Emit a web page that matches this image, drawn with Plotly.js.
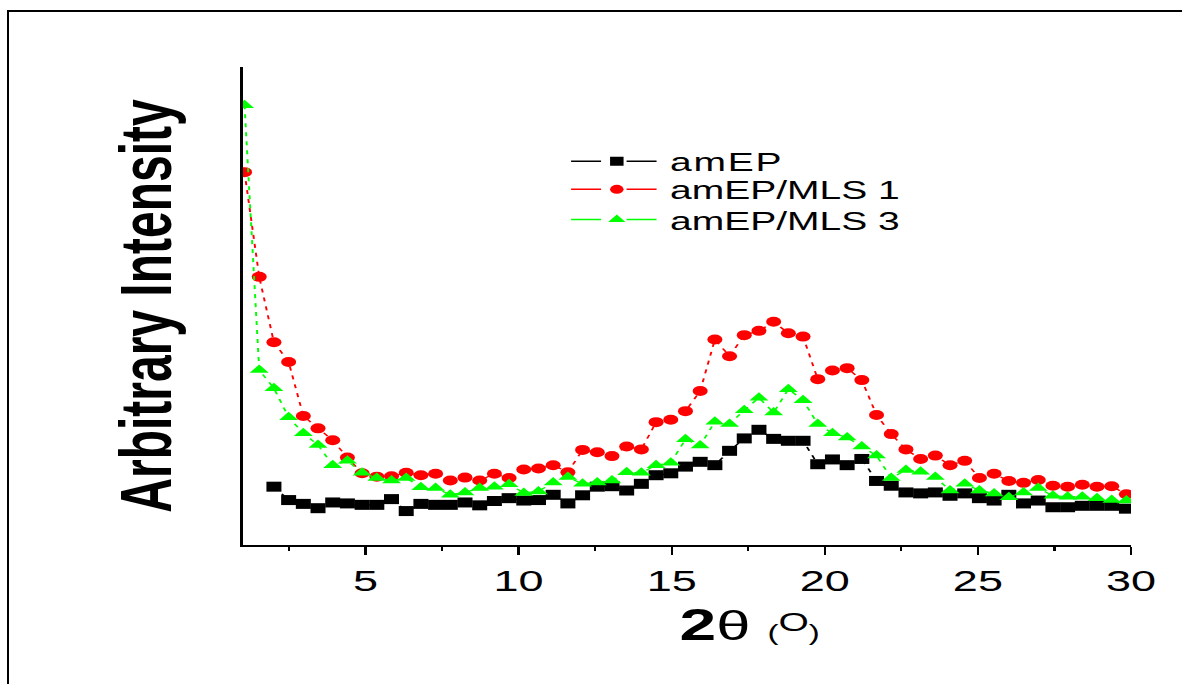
<!DOCTYPE html>
<html>
<head>
<meta charset="utf-8">
<script src="https://cdn.plot.ly/plotly-3.0.1.min.js"></script>
<style>
  html, body { margin: 0; padding: 0; background: #fff; overflow: hidden; }
  #frame { position: absolute; left: 7px; top: 10px; width: 1175px; height: 690px;
           border-left: 2px solid #000; border-top: 2px solid #000; box-sizing: border-box; }
  #chart { position: absolute; left: 0; top: 0; width: 794px; height: 684px;
           transform: scaleX(1.5); transform-origin: 0 0; }
  #chart .legendtext { letter-spacing: 1.2px; }
</style>
</head>
<body>
<div id="frame"></div>
<div id="chart"></div>
<script>
// 2θ positions (degrees) of the plotted symbols
const twoTheta = [1.05,1.53,2.01,2.49,2.97,3.45,3.93,4.41,4.89,5.37,
  5.85,6.33,6.81,7.29,7.77,8.25,8.73,9.21,9.69,10.17,
  10.65,11.13,11.61,12.09,12.57,13.05,13.53,14.01,14.49,14.97,
  15.45,15.93,16.41,16.89,17.37,17.85,18.33,18.81,19.29,19.77,
  20.25,20.73,21.21,21.69,22.17,22.65,23.13,23.61,24.09,24.57,
  25.05,25.53,26.01,26.49,26.97,27.45,27.93,28.41,28.89,29.37,
  29.85];

// Arbitrary intensity of each sample
const amEP = [null,null,122,94,86,77,89,87,84,84,
  96,71,86,84,84,89,83,92,98,93,
  94,105,87,104,122,123,114,128,146,150,
  164,174,167,197,223,241,222,218,218,169,
  179,167,180,134,124,110,108,110,103,108,
  98,93,105,87,93,79,79,82,82,82,
  76];
const amEP_MLS1 = [780,561,424,383,270,244,219,183,150,143,
  144,151,146,149,135,141,135,149,140,158,
  160,167,152,199,194,186,206,200,257,262,
  280,322,430,395,439,448,467,443,436,347,
  365,370,345,272,232,200,180,187,167,176,
  140,149,134,130,136,124,122,126,122,123,
  106];
const amEP_MLS3 = [920,366,328,267,234,209,167,176,151,140,
  135,140,121,119,105,110,119,122,127,109,
  112,131,142,128,131,135,152,151,167,172,
  221,208,258,253,282,308,277,326,303,253,
  234,225,206,187,140,157,153,142,114,128,
  114,108,100,110,119,103,101,101,98,94,
  93];

const seriesNames = ['amEP', 'amEP/MLS 1', 'amEP/MLS 3'];
const seriesValues = [amEP, amEP_MLS1, amEP_MLS3];
const seriesColors = ['#000000', '#ff0000', '#00ff00'];
const seriesSymbols = ['square', 'circle', 'triangle-up'];
const seriesSizes = [10, 10, 11];
const xTickVals = [5, 10, 15, 20, 25, 30];
const xMinorVals = [2.5, 7.5, 12.5, 17.5, 22.5, 27.5];

const FONT = '"Liberation Sans", Arial, sans-serif';
const legendIds = ['legend', 'legend2', 'legend3'];
const legendTops = [0.852, 0.793, 0.730];

const traces = [];
// data traces
seriesValues.forEach((vals, i) => {
  traces.push({
    x: twoTheta, y: vals, name: seriesNames[i], type: 'scatter', mode: 'lines+markers',
    showlegend: false, legendgroup: 'g' + i,
    line: { color: seriesColors[i], width: 1.3, dash: '4px,5px' },
    marker: { symbol: seriesSymbols[i], size: seriesSizes[i], color: seriesColors[i] }
  });
});
// legend entries (one per legend box so rows can be placed exactly)
seriesNames.forEach((nm, i) => {
  traces.push({
    x: [null], y: [null], name: nm, type: 'scatter', mode: 'lines+markers',
    legend: legendIds[i], legendgroup: 'g' + i, showlegend: true,
    line: { color: seriesColors[i], width: 1.5, dash: '20px,17px' },
    marker: { symbol: seriesSymbols[i], size: seriesSizes[i] - 1, color: seriesColors[i] }
  });
});

function legendBox(top) {
  return {
    x: 0.361, y: top, xanchor: 'left', yanchor: 'top',
    bgcolor: 'rgba(0,0,0,0)', borderwidth: 0,
    font: { family: FONT, size: 26, color: '#000' },
    itemwidth: 61
  };
}

const layout = {
  width: 794, height: 684,
  margin: { l: 162, r: 40, t: 67, b: 139 },
  paper_bgcolor: 'rgba(0,0,0,0)',
  plot_bgcolor: 'rgba(0,0,0,0)',
  font: { family: FONT, color: '#000' },
  showlegend: true,
  legend: legendBox(legendTops[0]),
  legend2: legendBox(legendTops[1]),
  legend3: legendBox(legendTops[2]),
  xaxis: {
    range: [1, 30], showgrid: false, zeroline: false,
    showline: true, linecolor: '#000', linewidth: 2,
    ticks: 'outside', ticklen: 8, tickwidth: 1.5, tickcolor: '#000',
    tickvals: xTickVals, ticktext: xTickVals.map(String),
    tickfont: { family: FONT, size: 30, color: '#000' },
    minor: { tickvals: xMinorVals, ticks: 'outside', ticklen: 4, tickwidth: 1.5, tickcolor: '#000' },
    fixedrange: true
  },
  yaxis: {
    range: [0, 1000], showgrid: false, zeroline: false,
    showline: true, linecolor: '#000', linewidth: 2,
    ticks: '', showticklabels: false,
    title: { text: '<b>Arbitrary Intensity</b>', font: { family: FONT, size: 48, color: '#000' }, standoff: 30 },
    fixedrange: true
  },
  annotations: [{
    xref: 'paper', yref: 'paper', x: 0.489, y: -0.167, xanchor: 'left', yanchor: 'middle',
    showarrow: false,
    text: '<b><span style="font-size:44px">2</span></b><span style="font-size:41px">θ</span> <span style="font-size:22px">(<sup><span style="font-size:26px">O</span></sup>)</span>',
    font: { family: FONT, size: 41, color: '#000' }
  }]
};

Plotly.newPlot('chart', traces, layout, { displayModeBar: false, staticPlot: true });
</script>
</body>
</html>
